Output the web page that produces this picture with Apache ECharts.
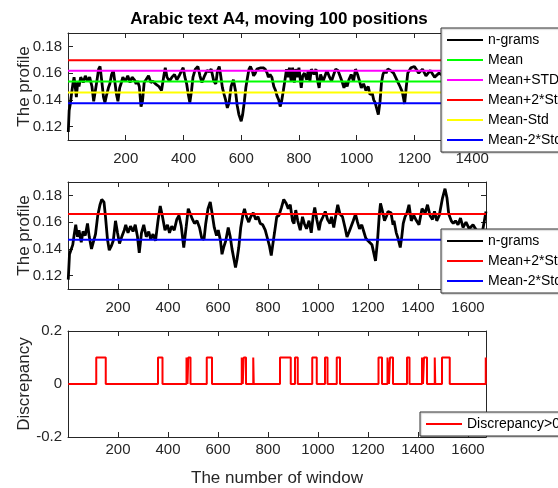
<!DOCTYPE html>
<html><head><meta charset="utf-8">
<script src="https://cdn.jsdelivr.net/npm/echarts@6/dist/echarts.min.js"></script>
<style>html,body{margin:0;padding:0;background:#fff}#c{width:558px;height:488px}</style>
</head><body><div id="c"></div>
<script>
// ---------- data ----------
const titleText = 'Arabic text A4, moving 100 positions';
const topMaxWindow = 1448;
const allMaxWindow = 1672;

// top panel: n-grams profile (window index, value)
const topIdx = [1,4,8,12,17,21,25,29,34,38,44,53,60,68,75,83,89,94,100,106,111,117,123,128,134,140,145,151,157,162,168,173,179,185,190,199,207,215,222,230,236,241,247,253,258,264,270,279,287,294,303,315,324,332,337,343,351,360,369,377,385,394,399,405,411,416,422,428,433,441,450,457,464,473,482,490,496,505,512,518,524,529,535,541,546,552,558,565,573,580,586,592,600,605,611,616,622,627,632,638,643,649,654,659,668,676,683,690,694,700,706,713,719,724,730,735,740,746,751,757,762,767,773,778,784,789,794,800,808,813,819,827,832,838,843,852,859,865,870,875,884,892,897,906,913,919,927,935,942,949,956,962,967,973,981,989,996,1003,1010,1016,1024,1032,1040,1046,1054,1059,1064,1070,1075,1081,1086,1091,1097,1102,1108,1117,1128,1139,1150,1158,1166,1172,1177,1188,1200,1215,1228,1240,1255,1270,1285,1300];
const topVal = [0.116,0.132,0.137,0.144,0.152,0.157,0.150,0.142,0.154,0.150,0.157,0.153,0.158,0.154,0.157,0.150,0.139,0.140,0.154,0.163,0.165,0.154,0.142,0.138,0.144,0.149,0.152,0.159,0.162,0.154,0.144,0.139,0.149,0.153,0.157,0.154,0.158,0.153,0.157,0.155,0.152,0.154,0.150,0.135,0.139,0.153,0.154,0.158,0.153,0.154,0.152,0.150,0.147,0.158,0.164,0.157,0.154,0.157,0.159,0.155,0.158,0.162,0.164,0.157,0.152,0.145,0.138,0.147,0.157,0.163,0.165,0.158,0.153,0.158,0.162,0.161,0.163,0.154,0.152,0.162,0.165,0.158,0.149,0.144,0.140,0.134,0.138,0.150,0.155,0.147,0.136,0.129,0.124,0.129,0.139,0.149,0.157,0.163,0.165,0.162,0.158,0.160,0.163,0.164,0.164,0.164,0.163,0.160,0.157,0.159,0.157,0.150,0.147,0.143,0.140,0.135,0.139,0.147,0.154,0.163,0.157,0.164,0.154,0.164,0.153,0.163,0.157,0.164,0.149,0.158,0.160,0.155,0.162,0.154,0.163,0.159,0.163,0.154,0.149,0.159,0.154,0.159,0.162,0.157,0.154,0.158,0.163,0.162,0.158,0.154,0.149,0.153,0.150,0.155,0.159,0.154,0.163,0.159,0.154,0.149,0.152,0.147,0.150,0.144,0.145,0.140,0.138,0.133,0.129,0.139,0.153,0.159,0.162,0.160,0.163,0.162,0.160,0.155,0.150,0.146,0.137,0.150,0.160,0.164,0.165,0.160,0.163,0.158,0.162,0.157,0.160,0.158];
// top panel reference levels
const topMean = 0.1537, topMeanPlusStd = 0.1618, topMeanPlus2Std = 0.1697, topMeanMinusStd = 0.1455, topMeanMinus2Std = 0.1374;

// middle panel: n-grams profile
const midIdx = [1,6,19,25,31,38,44,53,60,69,78,85,94,100,110,119,128,135,144,150,158,165,173,181,190,198,206,215,225,231,240,250,260,269,278,285,294,303,313,323,331,340,350,360,369,378,388,398,406,415,425,435,444,453,463,473,481,489,498,506,516,526,535,544,551,560,569,576,585,594,601,610,616,624,631,641,649,656,664,670,676,683,691,699,706,714,723,731,741,751,760,769,779,789,799,806,813,819,826,835,844,854,863,873,881,889,898,904,911,919,929,938,945,954,964,973,981,987,995,1004,1010,1020,1029,1038,1048,1054,1063,1073,1079,1088,1098,1108,1116,1125,1133,1141,1150,1158,1166,1175,1183,1191,1200,1208,1216,1223,1230,1238,1245,1250,1258,1266,1275,1280,1292,1300,1304,1313,1320,1329,1335,1341,1348,1356,1364,1373,1383,1391,1404,1416,1429,1438,1448,1458,1466,1475,1485,1498,1508,1516,1523,1533,1541,1550,1560,1570,1580,1592,1605,1620,1640,1655,1672];
const midVal = [0.117,0.136,0.143,0.151,0.158,0.149,0.154,0.145,0.153,0.150,0.159,0.149,0.140,0.139,0.151,0.165,0.173,0.177,0.175,0.164,0.147,0.139,0.142,0.146,0.161,0.152,0.144,0.149,0.154,0.158,0.152,0.157,0.153,0.158,0.149,0.137,0.152,0.158,0.149,0.153,0.147,0.151,0.146,0.161,0.172,0.164,0.154,0.158,0.152,0.157,0.154,0.162,0.165,0.157,0.141,0.157,0.170,0.171,0.162,0.159,0.161,0.156,0.148,0.147,0.159,0.170,0.175,0.167,0.156,0.150,0.154,0.146,0.136,0.142,0.146,0.156,0.149,0.140,0.132,0.126,0.132,0.141,0.156,0.165,0.170,0.164,0.160,0.164,0.167,0.162,0.164,0.159,0.158,0.154,0.147,0.142,0.135,0.143,0.152,0.164,0.165,0.171,0.177,0.174,0.170,0.173,0.161,0.159,0.169,0.161,0.154,0.164,0.159,0.155,0.161,0.152,0.165,0.171,0.162,0.154,0.160,0.164,0.168,0.162,0.159,0.164,0.156,0.167,0.173,0.166,0.164,0.156,0.149,0.153,0.152,0.161,0.166,0.160,0.155,0.158,0.153,0.148,0.146,0.147,0.143,0.137,0.131,0.146,0.165,0.174,0.168,0.161,0.165,0.168,0.167,0.158,0.161,0.152,0.148,0.141,0.149,0.159,0.164,0.167,0.173,0.161,0.165,0.162,0.158,0.170,0.167,0.173,0.165,0.162,0.168,0.161,0.165,0.178,0.185,0.178,0.166,0.161,0.159,0.161,0.158,0.163,0.156,0.160,0.155,0.158,0.152,0.150,0.168];
const midMeanPlus2Std = 0.1661, midMeanMinus2Std = 0.1468;

// bottom panel: windows flagged with discrepancy (start, end) and flag level
const discStart = [113,360,474,481,555,695,703,741,848,908,977,1028,1075,1242,1278,1288,1356,1416,1424,1467,1496,1671];
const discEnd   = [151,378,478,490,576,699,712,743,891,919,995,1038,1088,1256,1284,1300,1366,1420,1436,1469,1527,1672];
const discLevel = 0.1;

// ---------- build ----------
const zip = (a, b) => a.map((v, i) => [v, b[i]]);
const hline = (v, max) => [[0, v], [max, v]];
function discData() {
  const d = [[1, 0]];
  for (let i = 0; i < discStart.length; i++) {
    d.push([discStart[i], 0], [discStart[i], discLevel], [discEnd[i], discLevel]);
    if (discEnd[i] < allMaxWindow) d.push([discEnd[i], 0]);
  }
  if (discEnd[discEnd.length - 1] < allMaxWindow) d.push([allMaxWindow, 0]);
  return d;
}

const FONT = '"Liberation Sans", Arial, Helvetica, sans-serif';
const AX = '#262626';
const grids = [
  { left: 68, width: 418, top: 33, height: 107 },
  { left: 68, width: 418, top: 182, height: 107 },
  { left: 68, width: 418, top: 331, height: 106 }
];
function xAxes(gi, max, labelMargin, name) {
  const base = {
    type: 'value', gridIndex: gi, min: 0, max: max, interval: 200,
    axisLine: { show: true, onZero: false, lineStyle: { color: AX, width: 1 } },
    axisTick: { show: true, inside: true, length: 5, lineStyle: { color: AX, width: 1 } },
    splitLine: { show: false }
  };
  const bottom = Object.assign({}, base, {
    position: 'bottom',
    axisLabel: { show: true, showMinLabel: false, showMaxLabel: false, fontSize: 15, color: AX, margin: labelMargin, fontFamily: FONT,
      formatter: (v) => String(v) },
    name: name || '', nameLocation: 'middle', nameGap: 33, nameMoveOverlap: false,
    nameTextStyle: { fontSize: 17, color: AX, fontFamily: FONT }
  });
  const top = Object.assign({}, base, { position: 'top', axisLabel: { show: false } });
  return [bottom, top];
}
function yAxes(gi, min, max, extra, name, showEnds) {
  const base = Object.assign({
    type: 'value', gridIndex: gi, min: min, max: max,
    axisLine: { show: true, onZero: false, lineStyle: { color: AX, width: 1 } },
    axisTick: { show: true, inside: true, length: 5, lineStyle: { color: AX, width: 1 } },
    splitLine: { show: false }
  }, extra);
  const left = Object.assign({}, base, {
    position: 'left',
    axisLabel: { show: true, showMinLabel: showEnds, showMaxLabel: showEnds, fontSize: 15, color: AX, margin: 6, fontFamily: FONT,
      formatter: (v) => (Math.abs(v) < 1e-9 ? '0' : (showEnds ? String(+v.toFixed(2)) : v.toFixed(2))) },
    name: name, nameLocation: 'middle', nameGap: 35, nameMoveOverlap: false,
    nameTextStyle: { fontSize: 17, color: AX, fontFamily: FONT }
  });
  const right = Object.assign({}, base, { position: 'right', axisLabel: { show: false } });
  return [left, right];
}

const xAxis = [].concat(xAxes(0, topMaxWindow, 11), xAxes(1, allMaxWindow, 11), xAxes(2, allMaxWindow, 5, 'The number of window'));
const yAxis = [].concat(
  yAxes(0, 0.11, 0.19, { splitNumber: 4 }, 'The profile', false),
  yAxes(1, 0.11, 0.19, { splitNumber: 4 }, 'The profile', false),
  yAxes(2, -0.2, 0.2, { interval: 0.2 }, 'Discrepancy', true));

function line(name, data, color, width, xi, yi) {
  return { type: 'line', name: name, data: data, xAxisIndex: xi, yAxisIndex: yi, symbol: 'none',
    lineStyle: { color: color, width: width }, itemStyle: { color: color }, animation: false, silent: true, clip: true };
}
const series = [
  line('n-grams', zip(topIdx, topVal), '#000000', 2.8, 0, 0),
  line('Mean', hline(topMean, topMaxWindow), '#00ff00', 2, 0, 0),
  line('Mean+STD', hline(topMeanPlusStd, topMaxWindow), '#ff00ff', 2, 0, 0),
  line('Mean+2*Std', hline(topMeanPlus2Std, topMaxWindow), '#ff0000', 2, 0, 0),
  line('Mean-Std', hline(topMeanMinusStd, topMaxWindow), '#ffff00', 2, 0, 0),
  line('Mean-2*Std', hline(topMeanMinus2Std, topMaxWindow), '#0000ff', 2, 0, 0),
  line('n-grams', zip(midIdx, midVal), '#000000', 2.8, 2, 2),
  line('Mean+2*Std', hline(midMeanPlus2Std, allMaxWindow), '#ff0000', 2, 2, 2),
  line('Mean-2*Std', hline(midMeanMinus2Std, allMaxWindow), '#0000ff', 2, 2, 2),
  line('Discrepancy>0', discData(), '#ff0000', 2, 4, 4)
];

function legend(left, top, names) {
  return {
    left: left, top: top, orient: 'vertical', data: names,
    icon: 'rect', itemWidth: 36, itemHeight: 2, itemGap: 4, padding: [4, 70, 4, 6],
    backgroundColor: '#ffffff', borderColor: '#333333', borderWidth: 1,
    selectedMode: false,
    textStyle: { fontSize: 14, color: '#000', fontFamily: FONT, lineHeight: 16 },
    shadowColor: 'rgba(0,0,0,0.25)', shadowOffsetX: 1, shadowOffsetY: 1, shadowBlur: 1
  };
}

const option = {
  animation: false,
  backgroundColor: '#ffffff',
  textStyle: { fontFamily: FONT },
  title: { text: titleText, left: 'center', top: 6,
    textStyle: { fontSize: 17, fontWeight: 'bold', color: '#000', fontFamily: FONT } },
  grid: grids,
  xAxis: xAxis,
  yAxis: yAxis,
  legend: [
    legend(441, 28, ['n-grams', 'Mean', 'Mean+STD', 'Mean+2*Std', 'Mean-Std', 'Mean-2*Std']),
    legend(441, 229, ['n-grams', 'Mean+2*Std', 'Mean-2*Std']),
    legend(420, 412, ['Discrepancy>0'])
  ],
  series: series
};
const chart = echarts.init(document.getElementById('c'), null, { renderer: 'canvas' });
chart.setOption(option);
</script>
</body></html>
